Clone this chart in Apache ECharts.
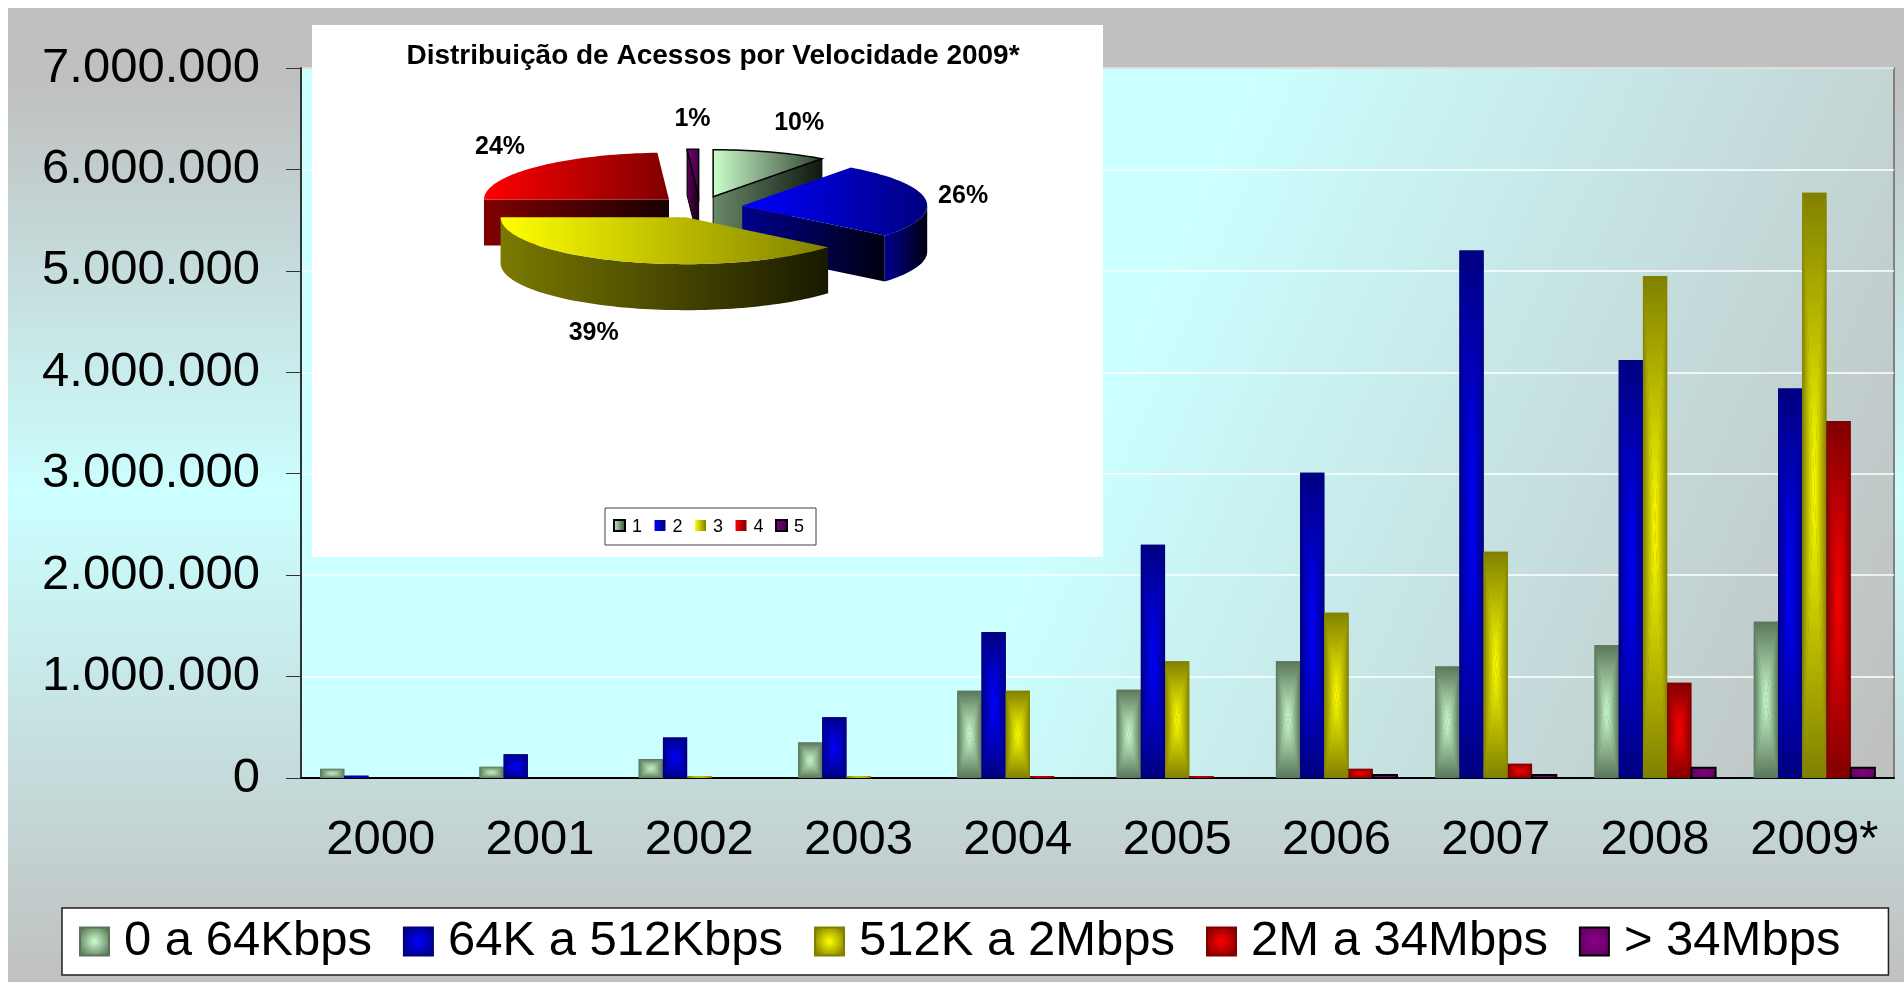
<!DOCTYPE html>
<html>
<head>
<meta charset="utf-8">
<style>
  html, body { margin: 0; padding: 0; background: #fff; }
  #chart { width: 1904px; height: 982px; }
</style>
<script src="https://cdn.jsdelivr.net/npm/echarts@6/dist/echarts.min.js"></script>
</head>
<body>
<div id="chart"></div>
<script>
// Acessos por faixa de velocidade 2000-2009*, com a pizza 3D da distribuição de 2009* por cima.
const years = ['2000', '2001', '2002', '2003', '2004', '2005', '2006', '2007', '2008', '2009*'];
const speedNames = ['0 a 64Kbps', '64K a 512Kbps', '512K a 2Mbps', '2M a 34Mbps', '> 34Mbps'];
const upTo64k = [90000, 110000, 187000, 350000, 860000, 870000, 1150000, 1100000, 1310000, 1540000];
const upTo512k = [23000, 233000, 400000, 600000, 1440000, 2300000, 3010000, 5200000, 4120000, 3840000];
const upTo2M = [0, 0, 20000, 20000, 860000, 1150000, 1630000, 2230000, 4950000, 5770000];
const upTo34M = [0, 0, 0, 0, 20000, 20000, 90000, 140000, 940000, 3520000];
const over34M = [0, 0, 0, 0, 0, 0, 30000, 30000, 100000, 100000];
const seriesValues = [upTo64k, upTo512k, upTo2M, upTo34M, over34M];

const pieTitle = 'Distribuição de Acessos por Velocidade 2009*';
const pieNames = ['1', '2', '3', '4', '5'];
const pieShare = [10, 26, 39, 24, 1];

const barLight = ['#ccffcc', '#0000ff', '#ffff00', '#ff0000', '#8a008a'];
const barDark = ['#5a765a', '#000080', '#808000', '#800000', '#600060'];
const pieLight = ['#ccffcc', '#0000ff', '#ffff00', '#ff0000', '#800080'];
const pieTopDark = ['#304030', '#000080', '#808000', '#800000', '#400040'];
const pieSide = ['#6a8a6a', '#000090', '#7a7a00', '#800000', '#600060'];
const pieShadow = ['#101810', '#000010', '#181800', '#180000', '#100010'];

const FONT = 'Liberation Sans, Arial, sans-serif';
const BAR_SHARE = 0.152;
const PIE = { cx: 700, cy: 207, rx: 185, ry: 47, depth: 46, explode: 0.23, labelX: 240, labelY: 88 };

function thousands(v) {
  return String(v).replace(/\B(?=(\d{3})+(?!\d))/g, '.');
}

// Excel "from centre" fill: four triangles, each shaded from its edge to the centre.
function cushion(x, y, w, h, light, dark, outlined) {
  const cx = x + w / 2, cy = y + h / 2;
  const grad = (x1, y1) => new echarts.graphic.LinearGradient(x1, y1, cx, cy,
    [{ offset: 0, color: dark }, { offset: 1, color: light }], true);
  const parts = [
    { type: 'rect', shape: { x: x, y: y, width: w, height: h }, style: { fill: dark } },
    { type: 'polygon', shape: { points: [[x, y], [x + w, y], [cx, cy]] }, style: { fill: grad(cx, y) } },
    { type: 'polygon', shape: { points: [[x, y + h], [x + w, y + h], [cx, cy]] }, style: { fill: grad(cx, y + h) } },
    { type: 'polygon', shape: { points: [[x, y], [x, y + h], [cx, cy]] }, style: { fill: grad(x, cy) } },
    { type: 'polygon', shape: { points: [[x + w, y], [x + w, y + h], [cx, cy]] }, style: { fill: grad(x + w, cy) } }
  ];
  if (outlined) {
    parts.push({ type: 'rect', shape: { x: x, y: y, width: w, height: h }, style: { fill: null, stroke: '#000', lineWidth: 2 } });
  }
  return parts;
}

function makeBar(k) {
  return function (params, api) {
    const val = api.value(1);
    if (!val) return null;
    const base = api.coord([api.value(0), 0]);
    const top = api.coord([api.value(0), val]);
    const bw = api.size([1, 0])[0] * BAR_SHARE;
    const x = base[0] - bw * speedNames.length / 2 + bw * k;
    return { type: 'group', children: cushion(x, top[1], bw, base[1] - top[1], barLight[k], barDark[k], k === 4) };
  };
}

function hGrad(c1, c2) {
  return new echarts.graphic.LinearGradient(0, 0, 1, 0, [{ offset: 0, color: c1 }, { offset: 1, color: c2 }]);
}

const pieTotal = pieShare.reduce((a, b) => a + b, 0);

function pieSlice(params, api) {
  const i = params.dataIndex;
  let before = 0;
  for (let k = 0; k < i; k++) before += pieShare[k];
  const a0 = before / pieTotal * 2 * Math.PI;
  const a1 = (before + api.value(0)) / pieTotal * 2 * Math.PI;
  const mid = (a0 + a1) / 2;
  const sm = Math.sin(mid), cm = Math.cos(mid);
  const cx = PIE.cx + PIE.explode * PIE.rx * sm;
  const cy = PIE.cy - PIE.explode * PIE.ry * cm;
  const D = PIE.depth;
  const pt = (a, dz) => [cx + PIE.rx * Math.sin(a), cy - PIE.ry * Math.cos(a) + dz];
  const arc = (s, e, dz) => {
    const n = Math.max(2, Math.ceil((e - s) / 0.03));
    const out = [];
    for (let k = 0; k <= n; k++) out.push(pt(s + (e - s) * k / n, dz));
    return out;
  };
  const zBase = Math.round((1 - cm) * 100) * 4;
  const edge = (i === 0 || i === 4) ? '#000' : null;
  const side = hGrad(pieSide[i], pieShadow[i]);
  const kids = [];
  if (Math.sin(a1) > 0.01) {
    kids.push({ type: 'polygon', z2: zBase, shape: { points: [[cx, cy], pt(a1, 0), pt(a1, D), [cx, cy + D]] },
      style: { fill: side, stroke: edge, lineWidth: 1 } });
  }
  if (-Math.sin(a0) > 0.01) {
    kids.push({ type: 'polygon', z2: zBase, shape: { points: [[cx, cy], pt(a0, 0), pt(a0, D), [cx, cy + D]] },
      style: { fill: side, stroke: edge, lineWidth: 1 } });
  }
  const ws = Math.max(a0, Math.PI / 2), we = Math.min(a1, Math.PI * 1.5);
  if (we > ws) {
    kids.push({ type: 'polygon', z2: zBase + 1, shape: { points: arc(ws, we, 0).concat(arc(ws, we, D).reverse()) },
      style: { fill: side, stroke: edge, lineWidth: 1 } });
  }
  kids.push({ type: 'polygon', z2: zBase + 2, shape: { points: [[cx, cy]].concat(arc(a0, a1, 0)) },
    style: { fill: hGrad(pieLight[i], pieTopDark[i]), stroke: edge, lineWidth: 1.5 } });

  const lx = PIE.cx + PIE.labelX * sm;
  const ly = PIE.cy - PIE.labelY * cm + (cm < 0 ? -cm * D : 0);
  kids.push({ type: 'text', z2: 2000, x: lx, y: ly, style: {
    text: Math.round(api.value(0) / pieTotal * 100) + '%',
    font: 'bold 25px ' + FONT, fill: '#000',
    align: sm > 0.2 ? 'left' : (sm < -0.2 ? 'right' : 'center'), verticalAlign: 'middle'
  } });
  return { type: 'group', children: kids };
}

const pieLegend = [{ type: 'rect', z: 10, shape: { x: 605, y: 508, width: 211, height: 37 },
  style: { fill: '#fff', stroke: '#404040', lineWidth: 1 } }];
pieNames.forEach(function (name, i) {
  const ix = 614 + i * 40.5;
  pieLegend.push({ type: 'rect', z: 11, shape: { x: ix, y: 520, width: 11, height: 11 },
    style: { fill: hGrad(pieLight[i], pieTopDark[i]), stroke: (i === 0 || i === 4) ? '#000' : null, lineWidth: 2 } });
  pieLegend.push({ type: 'text', z: 11, x: ix + 18, y: 527,
    style: { text: name, font: '18px ' + FONT, fill: '#000', verticalAlign: 'middle' } });
});

const chart = echarts.init(document.getElementById('chart'));
chart.setOption({
  animation: false,
  title: {
    text: pieTitle, left: 708, top: 37, textAlign: 'center', z: 12,
    textStyle: { fontFamily: FONT, fontSize: 28, fontWeight: 'bold', color: '#000' }
  },
  graphic: [
    { type: 'rect', z: -10, silent: true, shape: { x: 8, y: 8, width: 1896, height: 974 },
      style: { fill: new echarts.graphic.LinearGradient(0, 0, 0, 1, [
        { offset: 0, color: '#c0c0c0' }, { offset: 0.08, color: '#c0c0c0' },
        { offset: 0.5, color: '#ccffff' }, { offset: 1, color: '#c0c0c0' }]) } },
    { type: 'rect', z: 5, silent: true, shape: { x: 312, y: 25, width: 791, height: 532 }, style: { fill: '#fff' } }
  ].concat(pieLegend),
  legend: {
    data: speedNames, left: 62, top: 908, orient: 'horizontal', icon: 'rect',
    itemWidth: 29, itemHeight: 28, itemGap: 31,
    padding: [9, 48, 9, 17],
    backgroundColor: '#fff', borderColor: '#202020', borderWidth: 1.5,
    textStyle: { fontFamily: FONT, fontSize: 49, color: '#000', padding: [0, 0, 0, 10] }
  },
  grid: {
    left: 301, top: 68, right: 10, bottom: 204, show: true,
    borderColor: '#808080', borderWidth: 2,
    backgroundColor: new echarts.graphic.LinearGradient(0, 0, 1, 1, [
      { offset: 0, color: '#ccffff' }, { offset: 0.5, color: '#ccffff' }, { offset: 1, color: '#bfbfbf' }])
  },
  xAxis: {
    type: 'category', data: years, boundaryGap: true,
    axisLine: { lineStyle: { color: '#000', width: 2 } },
    axisTick: { interval: 0, length: 15, lineStyle: { color: '#333', width: 1 } },
    axisLabel: { interval: 0, fontFamily: FONT, fontSize: 49, color: '#000', margin: 38 }
  },
  yAxis: {
    type: 'value', min: 0, max: 7000000, interval: 1000000,
    axisLine: { show: true, lineStyle: { color: '#333', width: 2 } },
    axisTick: { show: true, length: 15, lineStyle: { color: '#333', width: 1 } },
    splitLine: { lineStyle: { color: '#ffffff', width: 1.5 } },
    axisLabel: { fontFamily: FONT, fontSize: 49, color: '#000', margin: 41, formatter: thousands }
  },
  series: seriesValues.map(function (vals, k) {
    return {
      type: 'custom', name: speedNames[k], z: 2,
      data: vals.map(function (v, i) { return [i, v]; }),
      encode: { x: 0, y: 1 },
      renderItem: makeBar(k),
      itemStyle: {
        color: new echarts.graphic.RadialGradient(0.5, 0.5, 0.6, [
          { offset: 0, color: barLight[k] }, { offset: 1, color: barDark[k] }]),
        borderColor: k === 4 ? '#000' : barDark[k], borderWidth: k === 4 ? 2 : 1
      }
    };
  }).concat([{
    type: 'custom', name: 'pie2009', coordinateSystem: 'none', z: 10, silent: true,
    data: pieShare, renderItem: pieSlice
  }])
});
</script>
</body>
</html>
